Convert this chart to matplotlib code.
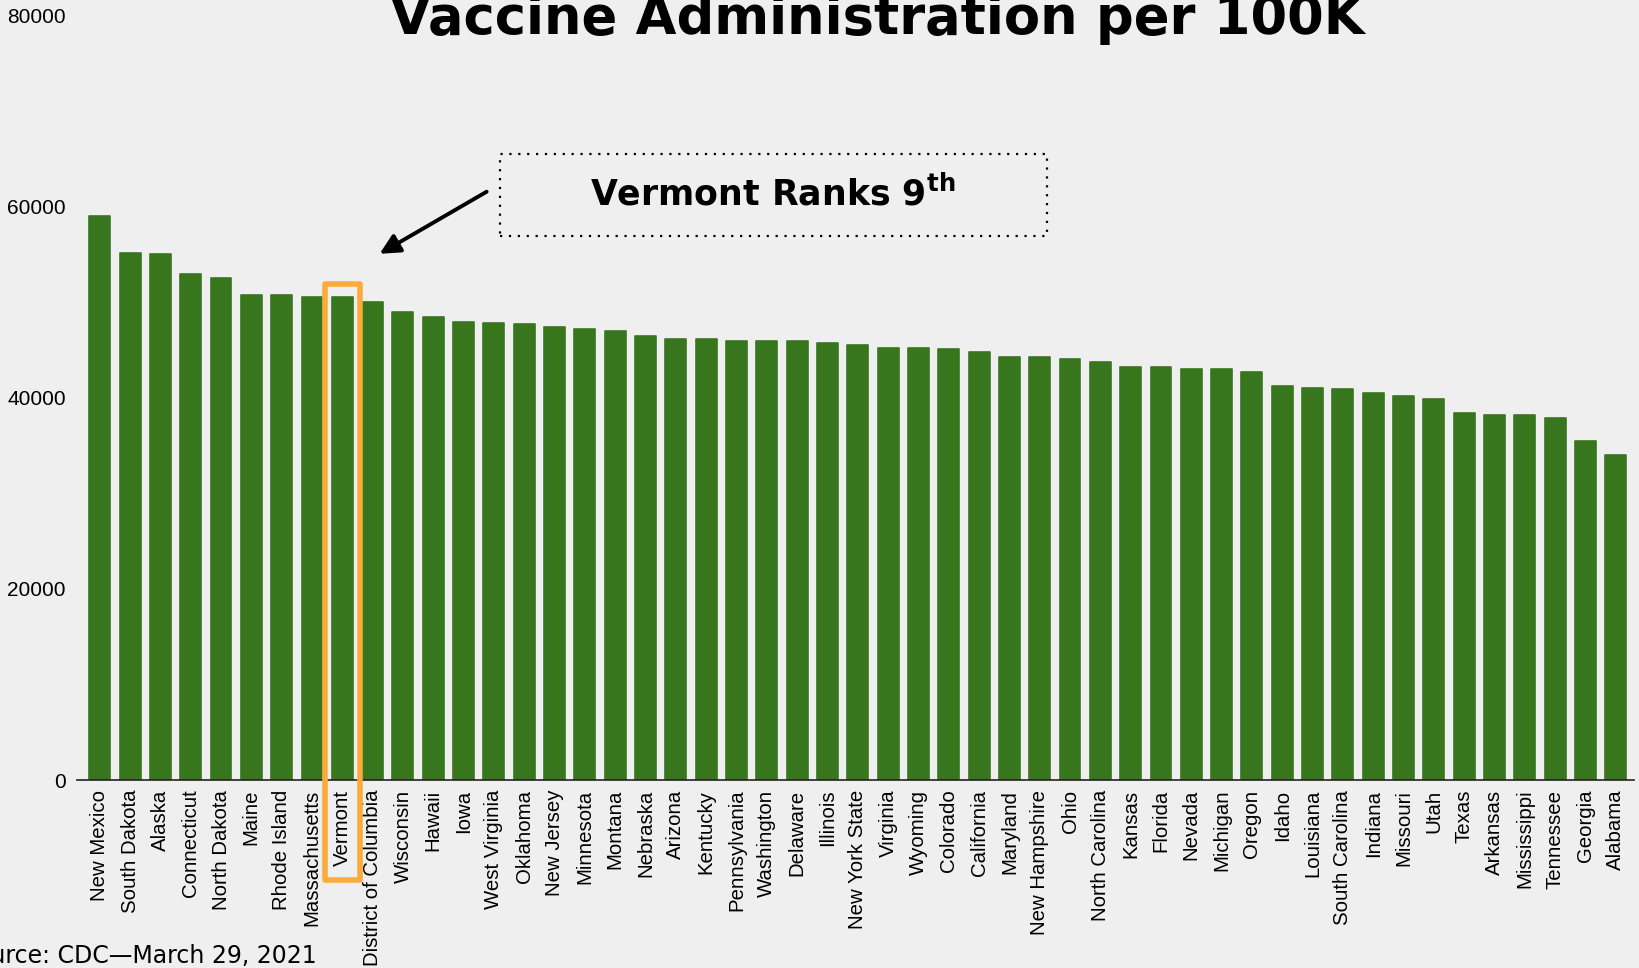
import numpy as np
import matplotlib
matplotlib.use("Agg")
import matplotlib.pyplot as plt
from matplotlib.patches import Rectangle

# Vaccine doses administered per 100K, CDC, March 29 2021
states = ["New Mexico", "South Dakota", "Alaska", "Connecticut", "North Dakota",
          "Maine", "Rhode Island", "Massachusetts", "Vermont", "District of Columbia",
          "Wisconsin", "Hawaii", "Iowa", "West Virginia", "Oklahoma", "New Jersey",
          "Minnesota", "Montana", "Nebraska", "Arizona", "Kentucky", "Pennsylvania",
          "Washington", "Delaware", "Illinois", "New York State", "Virginia", "Wyoming",
          "Colorado", "California", "Maryland", "New Hampshire", "Ohio", "North Carolina",
          "Kansas", "Florida", "Nevada", "Michigan", "Oregon", "Idaho", "Louisiana",
          "South Carolina", "Indiana", "Missouri", "Utah", "Texas", "Arkansas",
          "Mississippi", "Tennessee", "Georgia", "Alabama"]
doses_per_100k = [59090, 55150, 55130, 52950, 52600,
                  50790, 50780, 50620, 50580, 50090,
                  48970, 48450, 47930, 47900, 47750, 47400,
                  47190, 47020, 46490, 46150, 46130, 45940,
                  45930, 45920, 45730, 45550, 45200, 45190,
                  45180, 44850, 44330, 44320, 44110, 43770,
                  43215, 43210, 43085, 43080, 42740, 41275, 41098,
                  40920, 40575, 40190, 39843, 38410, 38240,
                  38230, 37856, 35523, 34060]
highlight = "Vermont"
yticks = [0, 20000, 40000, 60000, 80000]

bg = "#efefef"
bar_color = "#38761d"
orange = "#fbab3c"

fig = plt.figure(figsize=(16.4, 9.68), dpi=100, facecolor=bg)
ax = fig.add_axes([77 / 1640, 1 - 780 / 968, (1634 - 77) / 1640, (780 - 16) / 968])
ax.set_facecolor(bg)

x = np.arange(len(states))
ax.bar(x, doses_per_100k, width=0.69, color=bar_color, edgecolor=bar_color,
       linewidth=1.2, joinstyle="round", zorder=2)

ax.set_xlim(-0.75, len(states) - 0.4)
ax.set_ylim(0, 80000)
ax.set_yticks(yticks)
ax.set_yticklabels([str(v) for v in yticks], family="Liberation Sans", fontsize=15)
ax.set_xticks(x)
ax.set_xticklabels(states, rotation=90, family="Liberation Sans", fontsize=14.7)
ax.tick_params(axis="y", length=0, pad=8)
ax.tick_params(axis="x", length=0, pad=7)
for side in ["top", "right", "left"]:
    ax.spines[side].set_visible(False)
ax.spines["bottom"].set_color("#222222")
ax.spines["bottom"].set_linewidth(1.2)
ax.spines["bottom"].set_zorder(3)

# orange box round Vermont bar and label
vi = states.index(highlight)
vval = doses_per_100k[vi]
ax.add_patch(Rectangle((vi - 0.575, -10500), 1.15, vval + 1350 + 10500,
                       fill=False, edgecolor=orange, linewidth=4,
                       joinstyle="round", clip_on=False, zorder=4))

# callout box
ax.add_patch(Rectangle((13.2, 57000), 18.05, 8550, fill=False, edgecolor="black",
                       linestyle=(0, (1, 3)), linewidth=1.6, zorder=4))
plt.rcParams["mathtext.fontset"] = "dejavusans"
ax.text(22.2, 61400, r"Vermont Ranks 9$^{\mathbf{th}}$", ha="center", va="center",
        fontsize=25, fontweight="bold", family="DejaVu Sans", zorder=5)
ax.annotate("", xy=(vi + 1.23, 55100), xytext=(vi + 4.76, 61600),
            arrowprops=dict(arrowstyle="-|>", color="black", lw=2.8,
                            mutation_scale=30, shrinkA=0, shrinkB=0))

fig.text(877 / 1640, 1 - 34 / 968, "Vaccine Administration per 100K",
         ha="center", va="baseline", fontsize=38, fontweight="bold",
         family="DejaVu Sans")
fig.text(317 / 1640, 1 - 963 / 968, "Source: CDC\u2014March 29, 2021",
         ha="right", va="baseline", fontsize=17, family="DejaVu Sans")

fig.savefig("out.png", dpi=100, facecolor=bg)
